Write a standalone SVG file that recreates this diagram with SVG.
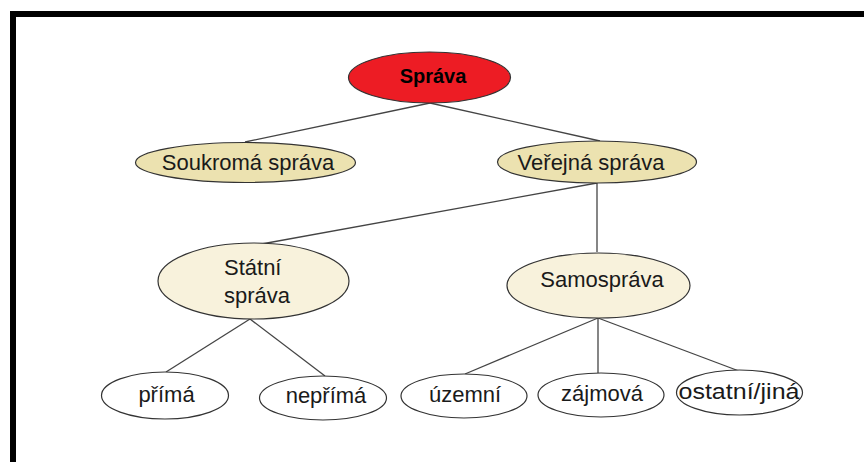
<svg xmlns="http://www.w3.org/2000/svg" width="864" height="462" viewBox="0 0 864 462">
<style>
.n{stroke:#333;stroke-width:1.2}
.t{font-family:"Liberation Sans",Arial,sans-serif;font-size:22px;fill:#1a1a1a;text-anchor:middle}
.c line{stroke:#444;stroke-width:1.3}
.root{fill:#ed1c24}
.l1{fill:#ece2b0}
.l2{fill:#f8f2dc}
.l3{fill:#ffffff}
</style>
<rect x="0" y="0" width="864" height="462" fill="#fff"/>
<g id="frame">
<rect x="10" y="11" width="854" height="6" fill="#000"/>
<rect x="10" y="11" width="6" height="451" fill="#000"/>
</g>
<g class="c" id="connectors">
<line x1="430" y1="103" x2="245" y2="142"/>
<line x1="430" y1="103" x2="600" y2="141"/>
<line x1="597" y1="183" x2="256" y2="245"/>
<line x1="597" y1="183" x2="597" y2="252"/>
<line x1="250" y1="319" x2="166" y2="372"/>
<line x1="250" y1="319" x2="325" y2="376"/>
<line x1="598" y1="318" x2="465" y2="374"/>
<line x1="598" y1="318" x2="598" y2="373"/>
<line x1="598" y1="318" x2="739" y2="371"/>
</g>
<g id="sprava">
<ellipse class="n root" cx="429.5" cy="77.5" rx="81" ry="25.5"/>
<text x="433" y="83" style="font-family:'Liberation Sans',Arial,sans-serif;font-size:20px;font-weight:bold;fill:#000;text-anchor:middle">Správa</text>
</g>
<g id="soukroma">
<ellipse class="n l1" cx="245.5" cy="162.5" rx="110" ry="20"/>
<text class="t" x="248" y="170">Soukromá správa</text>
</g>
<g id="verejna">
<ellipse class="n l1" cx="597" cy="162" rx="99.5" ry="21"/>
<text class="t" x="591" y="170">Veřejná správa</text>
</g>
<g id="statni">
<ellipse class="n l2" cx="253.5" cy="281" rx="95.5" ry="38"/>
<text class="t" x="224" y="275" style="text-anchor:start">Státní</text>
<text class="t" x="224" y="303" style="text-anchor:start">správa</text>
</g>
<g id="samosprava">
<ellipse class="n l2" cx="598.5" cy="285.5" rx="91.5" ry="32.5"/>
<text class="t" x="602" y="287">Samospráva</text>
</g>
<g id="prima">
<ellipse class="n l3" cx="165" cy="395.5" rx="63.5" ry="23.5"/>
<text class="t" x="166.5" y="402">přímá</text>
</g>
<g id="neprima">
<ellipse class="n l3" cx="323" cy="398" rx="63.5" ry="22"/>
<text class="t" x="326" y="403">nepřímá</text>
</g>
<g id="uzemni">
<ellipse class="n l3" cx="464" cy="396" rx="63" ry="22"/>
<text class="t" x="465" y="402">územní</text>
</g>
<g id="zajmova">
<ellipse class="n l3" cx="601" cy="395" rx="63" ry="22"/>
<text class="t" x="602" y="401">zájmová</text>
</g>
<g id="ostatni">
<ellipse class="n l3" cx="739.5" cy="392.5" rx="63" ry="22.5"/>
<text class="t" x="739" y="399" textLength="121" lengthAdjust="spacingAndGlyphs">ostatní/jiná</text>
</g>
</svg>
